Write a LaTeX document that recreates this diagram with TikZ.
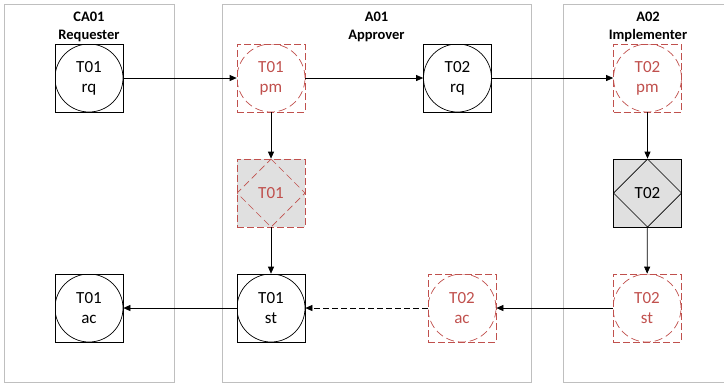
\documentclass[tikz,border=0pt]{standalone}
\usepackage{fontspec}
\setmainfont{Carlito}
\usepackage{xcolor}
\usepackage{tikz}
\usetikzlibrary{arrows.meta, positioning}
\definecolor{accentred}{HTML}{C0504D}
\definecolor{diamondgray}{HTML}{E0E0E0}
\definecolor{lanegray}{HTML}{BFBFBF}

\begin{document}
\begin{tikzpicture}[
    x=1pt, y=-1pt,
    lane/.style={draw=lanegray, line width=0.8pt, minimum width=#1, minimum height=378pt, inner sep=0pt},
    lanelabel/.style={font=\fontsize{14.5}{17.5}\selectfont\bfseries, align=center, inner sep=0pt, anchor=north},
    act/.style={draw, line width=0.7pt, minimum size=68pt, inner sep=0pt, align=center,
        font=\fontsize{17}{20}\selectfont,
        path picture={\draw[line width=0.7pt] (path picture bounding box.center) circle[radius=34pt];}},
    actred/.style={draw=accentred, text=accentred, dash pattern=on 7pt off 3pt, line width=0.7pt,
        minimum size=68pt, inner sep=0pt, align=center, font=\fontsize{17}{20}\selectfont,
        path picture={\draw[accentred, dash pattern=on 8pt off 4pt, line width=0.7pt]
            (path picture bounding box.center) circle[radius=34pt];}},
    prod/.style={draw, fill=diamondgray, line width=0.7pt, minimum size=68pt, inner sep=0pt,
        font=\fontsize{17}{20}\selectfont,
        path picture={\draw[line width=0.7pt] (path picture bounding box.north) -- (path picture bounding box.east)
            -- (path picture bounding box.south) -- (path picture bounding box.west) -- cycle;}},
    prodred/.style={draw=accentred, text=accentred, fill=diamondgray, dash pattern=on 7pt off 3pt, line width=0.7pt,
        minimum size=68pt, inner sep=0pt, font=\fontsize{17}{20}\selectfont,
        path picture={\draw[accentred, dash pattern=on 7pt off 4pt, line width=0.7pt]
            (path picture bounding box.north) -- (path picture bounding box.east)
            -- (path picture bounding box.south) -- (path picture bounding box.west) -- cycle;}},
    arr/.style={-{Triangle[length=7pt, width=6pt]}, line width=0.7pt},
]
\clip (0,0) rectangle (724,384);

% swimlanes
\node[lane=170pt] (lane1) at (89,193) {};
\node[lane=309pt] (lane2) at (376.5,193) {};
\node[lane=170pt] (lane3) at (648,193) {};
\node[lanelabel] (lab1) at (89,12) {CA01\\Requester};
\node[lanelabel] (lab2) at (376.5,12) {A01\\Approver};
\node[lanelabel] (lab3) at (648,12) {A02\\Implementer};

% transaction steps
\node[act] (rq1) at (89,78) {T01\\rq};
\node[actred] (pm1) at (271,78) {T01\\pm};
\node[act] (rq2) at (457.5,78) {T02\\rq};
\node[actred] (pm2) at (647.5,78) {T02\\pm};
\node[prodred] (dm1) at (271,193) {T01};
\node[prod] (dm2) at (647.5,193) {T02};
\node[act] (ac1) at (89,308) {T01\\ac};
\node[act] (st1) at (271,308) {T01\\st};
\node[actred] (ac2) at (462,308) {T02\\ac};
\node[actred] (st2) at (647,308) {T02\\st};

\draw[arr] (rq1) -- (pm1);
\draw[arr] (pm1) -- (rq2);
\draw[arr] (rq2) -- (pm2);
\draw[arr] (pm1) -- (dm1);
\draw[arr] (dm1) -- (st1);
\draw[arr] (pm2) -- (dm2);
\draw[arr] (dm2) -- (st2);
\draw[arr] (st2) -- (ac2);
\draw[arr, dash pattern=on 6pt off 3pt] (ac2) -- (st1);
\draw[arr] (st1) -- (ac1);
\end{tikzpicture}
\end{document}
